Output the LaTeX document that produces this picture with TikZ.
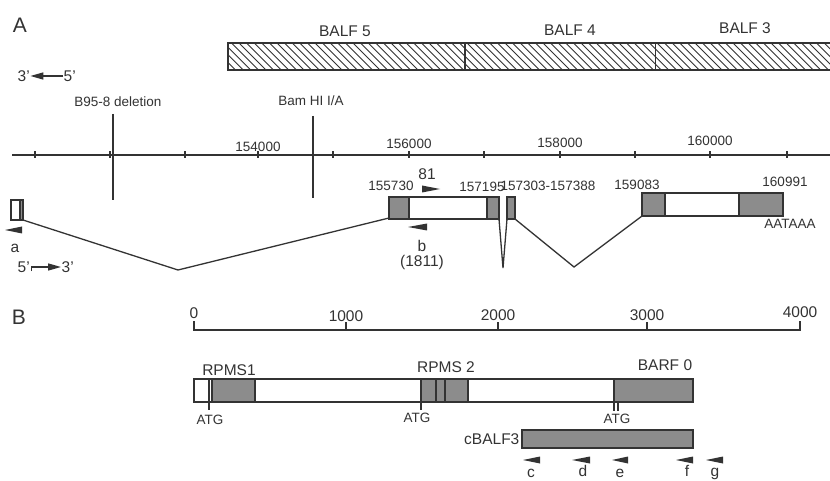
\documentclass[tikz,border=0pt]{standalone}
\usepackage{fontspec}
\setmainfont{Liberation Sans}
\usetikzlibrary{arrows.meta}
\definecolor{ink}{gray}{0.2}
\definecolor{exongray}{gray}{0.55}
\begin{document}
\begin{tikzpicture}[x=1pt,y=-1pt,line width=1.3pt,draw=ink,
  lbl/.style={inner sep=0pt,text=ink,font=\fontsize{13.5}{13.5}\selectfont},
  lblB/.style={inner sep=0pt,text=ink,font=\fontsize{15.5}{15.5}\selectfont},
  panel/.style={inner sep=0pt,text=ink,font=\fontsize{21}{21}\selectfont},
  shd/.style={fill=exongray,draw=ink},
  tri/.style={fill=ink,draw=none}]
\useasboundingbox (0,0) rectangle (830,481);
\fill[white] (0,0) rectangle (830,481);

% ---------------- Panel A ----------------
\node[panel] (labA) at (20,25) {A};

% hatched BALF bar
\begin{scope}
  \clip (228,43) rectangle (834,70);
  \foreach \i in {0,...,82} \draw[line width=0.9pt] (201+\i*7.6,43) -- (228+\i*7.6,70);
\end{scope}
\draw (228,43) rectangle (834,70);
\draw (465,43) -- (465,70);
\draw[line width=0.7pt] (655,43) -- (655,70);
\node[lblB] (balf5) at (345,31) {BALF 5};
\node[lblB] (balf4) at (570,30) {BALF 4};
\node[lblB] (balf3) at (745,28) {BALF 3};

% 3' <- 5'
\node[lblB,anchor=west] (p3a) at (17,76) {3'};
\node[lblB,anchor=west] (p5a) at (63,76) {5'};
\draw[-{Triangle[length=13pt,width=7pt]}] (p5a.west) -- (p3a.east);

% deletion / BamHI markers
\node[lbl] (del) at (118,102) {B95-8 deletion};
\coordinate (delT) at (113,114);
\coordinate (delB) at (113,200);
\draw (delT) -- (delB);
\node[lbl] (bam) at (311,101) {Bam HI I/A};
\coordinate (bamT) at (313,116);
\coordinate (bamB) at (313,198);
\draw (bamT) -- (bamB);

% coordinate axis
\coordinate (axL) at (12,155);
\coordinate (axR) at (830,155);
\draw[line width=1.4pt] (axL) -- (axR);
\foreach \x in {35,110,185,258,333,409,484,560,635,710,787}
  \draw (\x,151.5) -- (\x,158.5);
\node[lbl] (n154) at (258,147) {154000};
\node[lbl] (n156) at (409,144) {156000};
\node[lbl] (n158) at (560,143) {158000};
\node[lbl] (n160) at (710,141) {160000};

% exon 1 (a)
\fill[exongray] (20,200) rectangle (23,220);
\draw (11,200) rectangle (23,220);
\draw (20,200) -- (20,220);
\coordinate (e1) at (23,220);
\fill[tri] (5,230) -- (22,226.5) -- (22,233.5) -- cycle;
\node[lblB] (la) at (15,248) {a};

% 5' -> 3'
\node[lblB,anchor=west] (p5b) at (17,267) {5'};
\node[lblB,anchor=west] (p3b) at (61,267) {3'};
\draw[-{Triangle[length=13pt,width=7pt]}] ([xshift=1pt,yshift=-4pt]p5b.east) |- (p3b.west);

% exon 2
\fill[exongray] (389,197) rectangle (409,219);
\fill[exongray] (487,197) rectangle (499,219);
\draw (389,197) rectangle (499,219);
\draw (409,197) -- (409,219);
\draw (487,197) -- (487,219);
\coordinate (e2L) at (389,218);
\coordinate (e2R) at (499,219);
% exon 3
\draw[shd] (507,197) rectangle (515,219);
\coordinate (e3L) at (507,219);
\coordinate (e3R) at (515,219);
% exon 4
\fill[exongray] (642,193) rectangle (665,216);
\fill[exongray] (739,193) rectangle (783,216);
\draw (642,193) rectangle (783,216);
\draw (665,193) -- (665,216);
\draw (739,193) -- (739,216);
\coordinate (e4L) at (642,216);

% splice lines
\coordinate (v1) at (178,270);
\coordinate (v2) at (503,268);
\coordinate (v3) at (574,267);
\draw (e1) -- (v1) -- (e2L);
\draw (e2R) -- (v2) -- (e3L);
\draw (e3R) -- (v3) -- (e4L);

% exon labels
\node[lbl] (c155) at (391,186) {155730};
\node[lbl] (c157a) at (482,187) {157195};
\node[lbl] (c157b) at (548,186) {157303-157388};
\node[lbl] (c159) at (637,185) {159083};
\node[lbl] (c160) at (785,182) {160991};
\node[lbl] (polyA) at (790,224) {AATAAA};
\node[lblB] (l81) at (427,174) {81};
\fill[tri] (440,189) -- (422,185.5) -- (422,192.5) -- cycle;
\fill[tri] (408,227) -- (427,223.5) -- (427,230.5) -- cycle;
\node[lblB] (lb) at (422,246) {b};
\node[lblB] (l1811) at (422,262) {(1811)};

% ---------------- Panel B ----------------
\node[panel] (labB) at (19,317) {B};
\coordinate (sc0) at (194,330);
\coordinate (sc4) at (800,330);
\draw (194,321) -- (sc0) -- (sc4) -- (800,321);
\foreach \x in {346,498,647} \draw (\x,330) -- (\x,322);
\node[lblB] (s0) at (194,313) {0};
\node[lblB] (s1) at (346,316) {1000};
\node[lblB] (s2) at (498,315) {2000};
\node[lblB] (s3) at (647,315) {3000};
\node[lblB] (s4) at (800,312) {4000};

% transcript box
\fill[exongray] (212,379) rectangle (255,402);
\fill[exongray] (421,379) rectangle (468,402);
\fill[exongray] (614,379) rectangle (693,402);
\draw (194,379) rectangle (693,402);
\draw (212,379) -- (212,402);
\draw (255,379) -- (255,402);
\draw (209,379) -- (209,410);
\draw (421,379) -- (421,410);
\draw (436,379) -- (436,402);
\draw (445,379) -- (445,402);
\draw (468,379) -- (468,402);
\draw (614,379) -- (614,411);
\draw (618,402) -- (618,411);
\node[lblB] (rp1) at (229,370) {RPMS1};
\node[lblB] (rp2) at (446,367) {RPMS 2};
\node[lblB] (barf) at (665,365) {BARF 0};
\node[lbl] (atg1) at (210,420) {ATG};
\node[lbl] (atg2) at (417,418) {ATG};
\node[lbl] (atg3) at (617,419) {ATG};

% cBALF3
\draw[shd] (522,430) rectangle (693,448);
\node[lblB,anchor=east] (cb) at (520,439) {cBALF3};
\foreach \t/\b in {523/540,572/590,612/628,676/693,706/723}
  \fill[tri] (\t,460) -- (\b,456.5) -- (\b,463.5) -- cycle;
\node[lblB,anchor=base] (lc) at (531,477) {c};
\node[lblB,anchor=base] (ld) at (583,476) {d};
\node[lblB,anchor=base] (le) at (620,477) {e};
\node[lblB,anchor=base] (lf) at (687,476) {f};
\node[lblB,anchor=base] (lg) at (715,476) {g};
\end{tikzpicture}
\end{document}
